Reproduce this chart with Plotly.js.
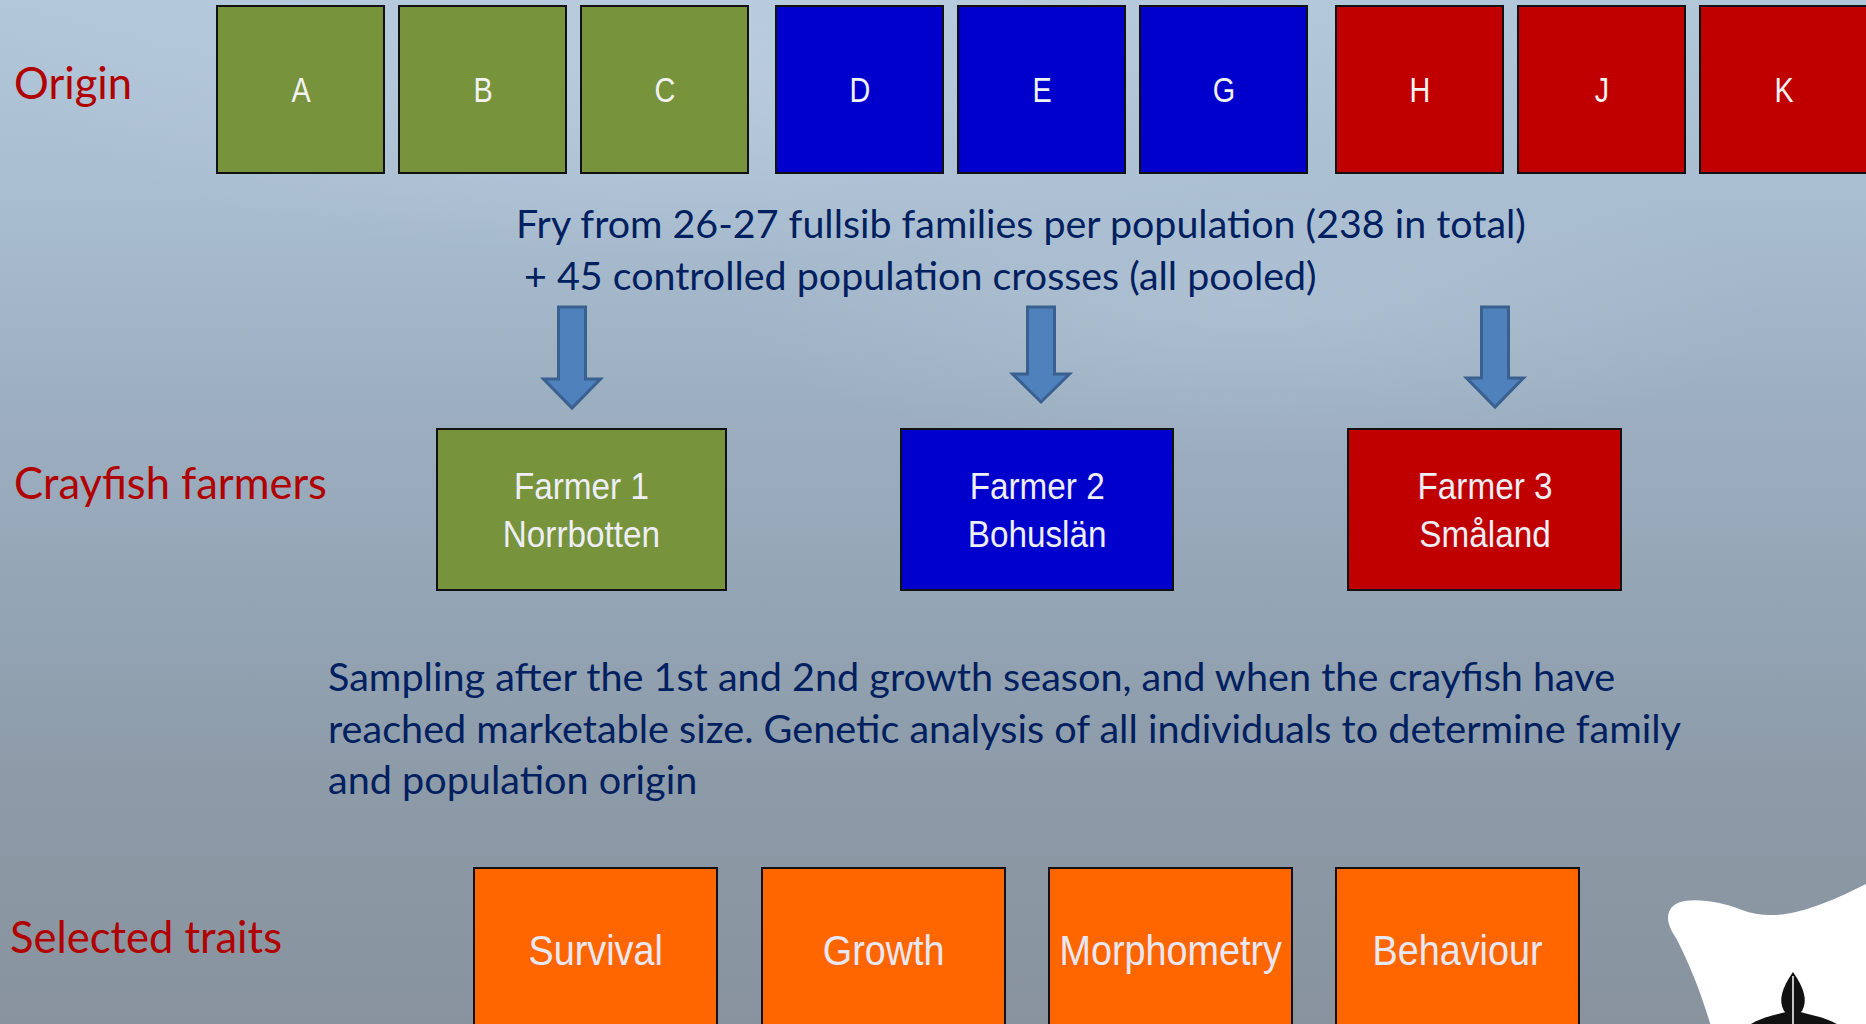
<!DOCTYPE html>
<html>
<head>
<meta charset="utf-8">
<script src="https://cdn.plot.ly/plotly-3.0.1.min.js"></script>
<style>
html,body{margin:0;padding:0;width:1866px;height:1024px;overflow:hidden;}
body{
  background:
    radial-gradient(ellipse 520px 160px at 1250px 300px, rgba(185,204,222,0.45), rgba(185,204,222,0) 100%),
    radial-gradient(ellipse 700px 200px at 700px 60px, rgba(195,212,228,0.5), rgba(195,212,228,0) 100%),
    linear-gradient(to bottom, #b2c7da 0%, #a9bdd0 20%, #9cafc1 40%, #93a4b4 60%, #8c99a6 80%, #88939e 100%);
}
#chart{width:1866px;height:1024px;}
</style>
</head>
<body>
<div id="chart"></div>
<script>
// ---- data ----
const originLabels = ['A','B','C','D','E','G','H','J','K'];
const originColors = ['#77933c','#77933c','#77933c','#0000cc','#0000cc','#0000cc','#c00000','#c00000','#c00000'];
const farmerLabels = ['Farmer 1<br>Norrbotten','Farmer 2<br>Bohuslän','Farmer 3<br>Småland'];
const farmerColors = ['#77933c','#0000cc','#c00000'];
const traitLabels = ['Survival','Growth','Morphometry','Behaviour'];
const rowLabels = ['Origin','Crayfish farmers','Selected traits'];
const fryText = ['Fry from 26-27 fullsib families per population (238 in total)',
                 '+ 45 controlled population crosses (all pooled)'];
const samplingText = ['Sampling after the 1st and 2nd growth season, and when the crayfish have',
                      'reached marketable size. Genetic analysis of all individuals to determine family',
                      'and population origin'];

// ---- layout geometry (pixels) ----
const originX = [217,399,581,776,958,1140,1336,1518,1700];
const originW = 167, originY0 = 6, originY1 = 173;
const farmerX = [[437,726],[901,1173],[1348,1621]];
const farmerY0 = 429, farmerY1 = 590;
const arrowCX = [572,1041,1495];
const arrowHeadY = [379,374,378];
const arrowTipY = [408,402,407];
const traitX = [474,762,1049,1336];
const traitW = 243, traitY0 = 868, traitY1 = 1040;
const rowY = [82,482,936];

const RED = '#b00000', NAVY = '#002060';
const NARROW = 'Liberation Sans, Arial, sans-serif';
const shapes = [], annotations = [];
const squeeze = {}; // annotation index -> horizontal scale

originLabels.forEach((lab,i)=>{
  shapes.push({type:'rect',xref:'x',yref:'y',x0:originX[i],x1:originX[i]+originW,y0:originY0,y1:originY1,
    fillcolor:originColors[i],line:{color:'#111',width:2}});
  squeeze[annotations.length] = 0.8;
  annotations.push({xref:'x',yref:'y',x:originX[i]+originW/2,y:(originY0+originY1)/2,text:lab,showarrow:false,
    font:{family:NARROW,size:36,color:'#f2f2f2'},xanchor:'center',yanchor:'middle'});
});

farmerLabels.forEach((lab,i)=>{
  shapes.push({type:'rect',xref:'x',yref:'y',x0:farmerX[i][0],x1:farmerX[i][1],y0:farmerY0,y1:farmerY1,
    fillcolor:farmerColors[i],line:{color:'#111',width:2}});
  squeeze[annotations.length] = 0.9;
  annotations.push({xref:'x',yref:'y',x:(farmerX[i][0]+farmerX[i][1])/2,y:(farmerY0+farmerY1)/2+1,text:lab,showarrow:false,
    font:{family:NARROW,size:37,color:'#eeeef6'},xanchor:'center',yanchor:'middle'});
});

arrowCX.forEach((cx,i)=>{
  const sw=13.5, hw=28.5, top=307, hy=arrowHeadY[i], ty=arrowTipY[i];
  const p = `M${cx-sw},${top} L${cx+sw},${top} L${cx+sw},${hy} L${cx+hw},${hy} L${cx},${ty} L${cx-hw},${hy} L${cx-sw},${hy} Z`;
  shapes.push({type:'path',xref:'x',yref:'y',path:p,fillcolor:'#4f81bd',line:{color:'#3a6090',width:3}});
});

traitLabels.forEach((lab,i)=>{
  shapes.push({type:'rect',xref:'x',yref:'y',x0:traitX[i],x1:traitX[i]+traitW,y0:traitY0,y1:traitY1,
    fillcolor:'#ff6600',line:{color:'#111',width:2}});
  squeeze[annotations.length] = 0.9;
  annotations.push({xref:'x',yref:'y',x:traitX[i]+traitW/2,y:950,text:lab,showarrow:false,
    font:{family:NARROW,size:42,color:'#e8e8f4'},xanchor:'center',yanchor:'middle'});
});

rowLabels.forEach((lab,i)=>{
  annotations.push({xref:'x',yref:'y',x:i===2?8:12,y:rowY[i],text:lab,showarrow:false,
    font:{family:'Lato, sans-serif',size:43.5,color:RED},xanchor:'left',yanchor:'middle'});
});

annotations.push({xref:'x',yref:'y',x:514,y:222,text:fryText[0],showarrow:false,
  font:{family:'Lato, sans-serif',size:39.4,color:NAVY},xanchor:'left',yanchor:'middle'});
annotations.push({xref:'x',yref:'y',x:522,y:274,text:fryText[1],showarrow:false,
  font:{family:'Lato, sans-serif',size:39.4,color:NAVY},xanchor:'left',yanchor:'middle'});
samplingText.forEach((t,i)=>{
  annotations.push({xref:'x',yref:'y',x:326,y:675.5+i*51.5,text:t,showarrow:false,
    font:{family:'Lato, sans-serif',size:39.6,color:NAVY},xanchor:'left',yanchor:'middle'});
});

// logo (white blob + fleur-de-lis)
shapes.push({type:'path',xref:'x',yref:'y',
  path:'M1670,910 C1676,896 1712,898 1742,910 C1772,921 1805,915 1866,884 L1866,1030 L1712,1030 C1702,995 1690,965 1676,938 C1668,926 1666,917 1670,910 Z',
  fillcolor:'#ffffff',line:{width:0}});
shapes.push({type:'path',xref:'x',yref:'y',
  path:'M1793,972 C1782,988 1778,1000 1784,1011 L1793,1018 L1802,1011 C1808,1000 1804,988 1793,972 Z',
  fillcolor:'#111111',line:{width:0}});
shapes.push({type:'path',xref:'x',yref:'y',
  path:'M1793,1010 C1780,1014 1760,1017 1748,1026 L1840,1026 C1827,1017 1806,1014 1793,1010 Z',
  fillcolor:'#111111',line:{width:0}});
shapes.push({type:'line',xref:'x',yref:'y',x0:1793,x1:1793,y0:976,y1:1026,line:{color:'#ffffff',width:1.5}});

const layout = {
  width:1866, height:1024,
  margin:{l:0,r:0,t:0,b:0},
  paper_bgcolor:'rgba(0,0,0,0)', plot_bgcolor:'rgba(0,0,0,0)',
  xaxis:{range:[0,1866],visible:false,fixedrange:true},
  yaxis:{range:[1024,0],visible:false,fixedrange:true},
  shapes:shapes, annotations:annotations, showlegend:false
};
Plotly.newPlot('chart',[{x:[],y:[],type:'scatter',hoverinfo:'skip'}],layout,{staticPlot:true,displayModeBar:false})
.then(gd=>{
  // condense box labels horizontally (narrow face not installed)
  Object.keys(squeeze).forEach(k=>{
    const el = gd.querySelector(`.annotation[data-index="${k}"] text.annotation-text`);
    if(!el) return;
    const bb = el.getBBox();
    const cx = bb.x + bb.width/2, s = squeeze[k];
    el.setAttribute('transform',`translate(${cx},0) scale(${s},1) translate(${-cx},0)`);
  });
});
</script>
</body>
</html>
